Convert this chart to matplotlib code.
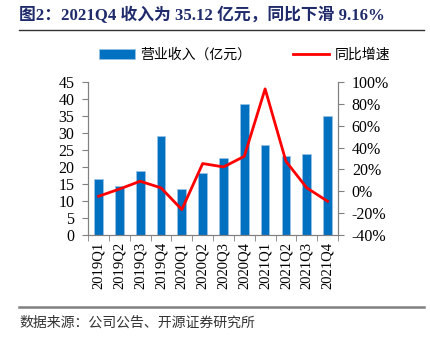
import matplotlib.pyplot as plt
from matplotlib.ticker import FuncFormatter, MultipleLocator

quarters = ['2019Q1', '2019Q2', '2019Q3', '2019Q4', '2020Q1', '2020Q2',
            '2020Q3', '2020Q4', '2021Q1', '2021Q2', '2021Q3', '2021Q4']
revenue = [16.5, 14.4, 18.7, 29.1, 13.6, 18.1, 22.8, 38.7, 26.6, 23.2, 23.8, 35.12]
yoy = [-4.6, 2.0, 9.2, 3.1, -16.8, 25.4, 22.3, 32.0, 93.8, 27.5, 3.1, -9.16]

serif = ['Liberation Serif', 'Noto Sans CJK SC']
cjk = ['Noto Sans CJK SC', 'DejaVu Sans']
plt.rcParams['font.family'] = serif

fig = plt.figure(figsize=(4.3, 3.38), dpi=100)
ax = fig.add_axes([0.205, 0.305, 0.581, 0.452])
ax2 = ax.twinx()

x = list(range(len(quarters)))
bars = ax.bar(x, revenue, width=0.42, color='#0070C0', edgecolor='#9DC3E6',
              linewidth=0.5, label='营业收入（亿元）')
line, = ax2.plot(x, yoy, color='#FF0000', linewidth=2, label='同比增速')

ax.set_ylim(0, 45)
ax.yaxis.set_major_locator(MultipleLocator(5))
ax2.set_ylim(-40, 100)
ax2.yaxis.set_major_locator(MultipleLocator(20))
ax2.yaxis.set_major_formatter(FuncFormatter(lambda v, p: f'{v:.0f}%'))
ax.set_xlim(-0.5, len(quarters) - 0.5)

ax.set_xticks(x)
ax.set_xticklabels(quarters, rotation=90, fontsize=10.5)
ax.set_xticks([i + 0.5 for i in range(-1, len(quarters))], minor=True)
ax.tick_params(axis='x', which='major', length=0, pad=5)
ax.tick_params(axis='x', which='minor', length=4, direction='out', color='#808080')
ax.tick_params(axis='y', labelsize=11.5, length=4, color='#808080', pad=6)
ax2.tick_params(axis='y', labelsize=11.5, length=4, color='#808080', pad=6)

for a in (ax, ax2):
    a.spines['top'].set_visible(False)
    for s in ('left', 'right', 'bottom'):
        a.spines[s].set_color('#808080')

leg = fig.legend(handles=[bars, line], loc='upper left', bbox_to_anchor=(0.2, 0.895),
                 ncol=2, frameon=False, prop={'family': cjk, 'size': 10},
                 handlelength=2.6, columnspacing=3.0, handletextpad=0.4)

fig.text(0.045, 0.955, '图2：2021Q4 收入为 35.12 亿元，同比下滑 9.16%',
         fontsize=12.1, fontweight='bold', color='#1F2B6B', va='center',
         family=serif)
fig.add_artist(plt.Line2D([0.045, 0.985], [0.91, 0.91], color='#333333', linewidth=1.0))
fig.add_artist(plt.Line2D([0.045, 0.985], [0.092, 0.092], color='#808080', linewidth=1.8))
fig.text(0.045, 0.045, '数据来源：公司公告、开源证券研究所', fontsize=10,
         color='#333333', va='center', family=cjk)

fig.savefig('out.png', dpi=100)
